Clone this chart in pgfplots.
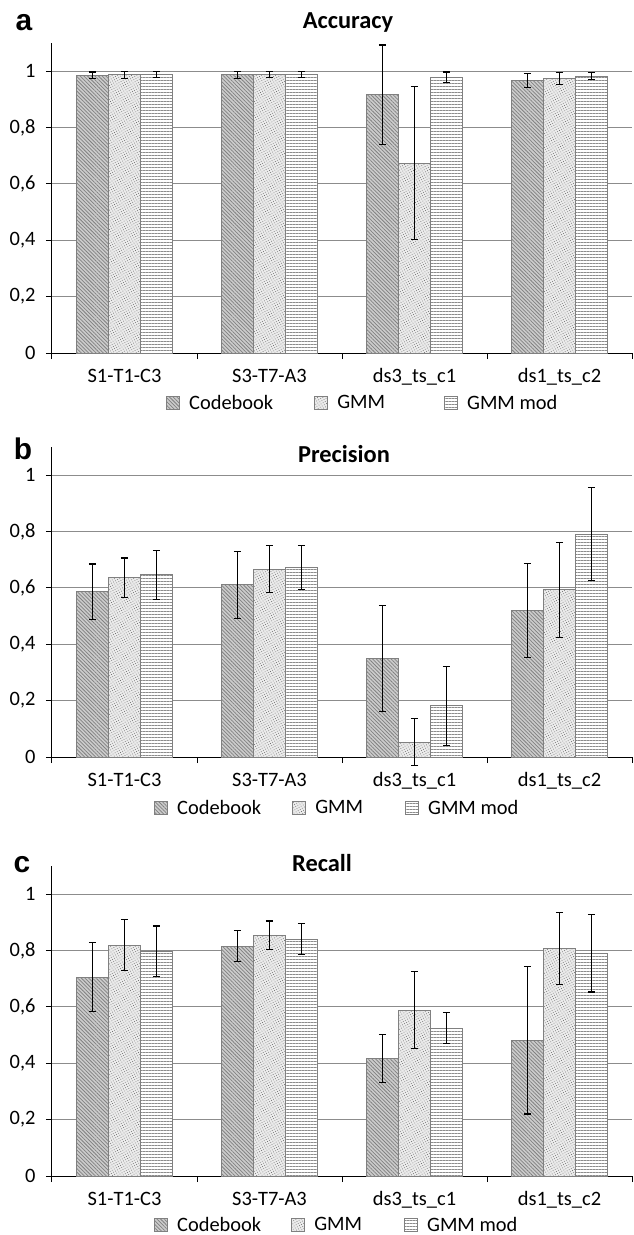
\documentclass[border=0pt]{standalone}
\usepackage{pgfplots}
\pgfplotsset{compat=1.18}
\usepackage{pgfplotstable}
\usetikzlibrary{patterns.meta}
\usepackage{fontspec}
\setmainfont{Carlito}
\newfontfamily\letterfont{Liberation Sans}

% value and half-width of the error bar, per method
\pgfplotstableread{
x cb cbe gm gme md mde
0 0.985 0.012 0.987 0.012 0.987 0.011
1 0.987 0.012 0.988 0.012 0.988 0.010
2 0.917 0.176 0.674 0.272 0.979 0.018
3 0.967 0.025 0.975 0.021 0.982 0.012
}\acc

\pgfplotstableread{
x cb cbe gm gme md mde
0 0.586 0.099 0.636 0.070 0.646 0.088
1 0.611 0.118 0.667 0.083 0.672 0.078
2 0.351 0.188 0.053 0.084 0.181 0.140
3 0.520 0.166 0.593 0.168 0.790 0.165
}\prec

\pgfplotstableread{
x cb cbe gm gme md mde
0 0.706 0.121 0.819 0.090 0.798 0.089
1 0.815 0.055 0.854 0.051 0.840 0.055
2 0.418 0.085 0.588 0.137 0.525 0.056
3 0.482 0.262 0.807 0.127 0.791 0.138
}\rec

\newcommand\txt{\fontsize{20.5}{24}\selectfont}
\newcommand\ttl{\bfseries\fontsize{24.5}{28}\selectfont}
\newcommand\lett{\letterfont\bfseries\fontsize{30}{30}\selectfont}

\pgfplotsset{
  sq legend/.style={legend image code/.code={\draw[##1] (0bp,-6.5bp) rectangle (13bp,6.5bp);}},
  cbst/.style={draw=black!50, line width=1bp, fill=black!20,
    postaction={pattern={Lines[angle=-45,distance=2.6bp,line width=0.75bp]}, pattern color=black!50},
    sq legend},
  gmst/.style={draw=black!50, line width=1bp, fill=black!8,
    postaction={pattern={Dots[radius=0.5bp,distance=2.4bp,angle=30]}, pattern color=black!55},
    sq legend},
  mdst/.style={draw=black!50, line width=1bp, fill=white,
    postaction={pattern={Lines[angle=0,distance=3bp,line width=0.9bp]}, pattern color=black!45},
    sq legend},
  panel/.style={
    width=580bp, height=310bp, scale only axis, clip=false,
    ybar=0pt, bar width=32bp,
    ymin=0, ymax=1.1, xmin=-0.5, xmax=3.5,
    axis lines*=left,
    axis line style={black, line width=1bp},
    ytick={0,0.2,0.4,0.6,0.8,1},
    ymajorgrids, grid style={black!45, line width=1bp},
    y tick style={black, line width=1bp}, tick align=outside, major tick length=6bp,
    yticklabel style={/pgf/number format/fixed, /pgf/number format/use comma,
      /pgf/number format/assume math mode=true, xshift=-7bp},
    xtick={0,1,2,3},
    xticklabels={S1-T1-C3,S3-T7-A3,ds3\_ts\_c1,ds1\_ts\_c2},
    x tick style={draw=none},
    xticklabel style={anchor=base, yshift=-23bp},
    extra x ticks={-0.5,0.5,1.5,2.5,3.5}, extra x tick labels={},
    extra x tick style={x tick style={draw=black, line width=1bp}},
    tick label style={font=\txt},
    error bars/error bar style={black, line width=1.1bp},
    error bars/error mark options={rotate=90, black, mark size=3.7bp, line width=1.1bp},
    legend columns=3,
    legend style={draw=none, fill=none, font=\txt, inner sep=0pt,
      nodes={inner sep=0pt},
      at={(axis description cs:0,0)}, anchor=west,
      /tikz/every odd column/.style={column sep=9bp}},
  },
}

\newcommand\bars[1]{%
  \addplot[cbst, error bars/.cd, y dir=both, y explicit] table[x=x, y=cb, y error=cbe] {#1};
  \addplot[gmst, error bars/.cd, y dir=both, y explicit] table[x=x, y=gm, y error=gme] {#1};
  \addplot[mdst, error bars/.cd, y dir=both, y explicit] table[x=x, y=md, y error=mde] {#1};
  \legend{Codebook, GMM, GMM mod}
}

\begin{document}
\begin{tikzpicture}
\begin{axis}[panel, at={(0,0)},
  legend style={xshift=114bp, yshift=-50bp,
    /tikz/column 2/.style={column sep=41bp}, /tikz/column 4/.style={column sep=59bp}}]
  \bars{\acc}
  \node[font=\lett, xshift=-28bp, yshift=20bp] at (axis description cs:0,1) {a};
  \node[font=\ttl, anchor=base, xshift=6bp, yshift=14bp] at (axis description cs:0.5,1) {Accuracy};
\end{axis}

\begin{axis}[panel, at={(0,-404bp)},
  legend style={xshift=102bp, yshift=-51bp,
    /tikz/column 2/.style={column sep=31bp}, /tikz/column 4/.style={column sep=42bp}}]
  \bars{\prec}
  \node[font=\lett, xshift=-29bp, yshift=-2bp] at (axis description cs:0,1) {b};
  \node[font=\ttl, anchor=base, xshift=2bp, yshift=-15bp] at (axis description cs:0.5,1) {Precision};
\end{axis}

\begin{axis}[panel, at={(0,-823bp)},
  legend style={xshift=102bp, yshift=-49bp,
    /tikz/column 2/.style={column sep=30bp}, /tikz/column 4/.style={column sep=42bp}}]
  \bars{\rec}
  \node[font=\lett, xshift=-30bp, yshift=1bp] at (axis description cs:0,1) {c};
  \node[font=\ttl, anchor=base, xshift=-20bp, yshift=-5bp] at (axis description cs:0.5,1) {Recall};
\end{axis}

\pgfresetboundingbox
\path (-52bp,-882bp) rectangle (582bp,353bp);
\end{tikzpicture}
\end{document}
